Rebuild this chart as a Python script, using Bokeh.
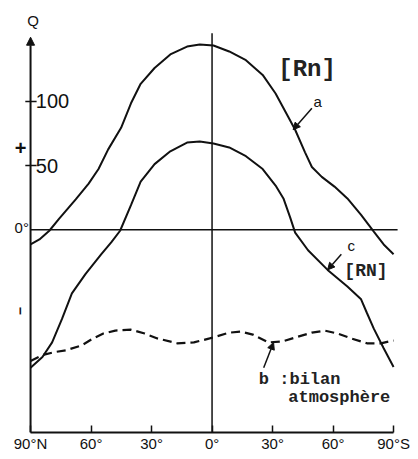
import math
from bokeh.plotting import figure
from bokeh.models import FixedTicker, Arrow, NormalHead, Range1d
from bokeh.core.properties import value
from bokeh.embed import file_html
from bokeh.resources import INLINE

# ---- data (latitude: negative = North, positive = South) ----
lat_ticks = [-90, -60, -30, 0, 30, 60, 90]
lat_labels = ["90°N", "60°", "30°", "0°", "30°", "60°", "90°S"]

q_ticks = [50, 100]
q_tick_labels = ["50", "100"]

# curve a : total
a_lat = [-90, -85.6, -80.7, -75.9, -67.6, -61.2, -56.3, -51.5, -45.1, -40.2, -35.4,
         -28.5, -20.7, -12.4, -6.1, 0.7, 8.5, 16.8, 25.1, 31.5, 37.8, 41.2, 46.1,
         49.5, 54.4, 60.7, 67.1, 73.9, 80.2, 85.1, 90.0]
a_q = [-11.5, -7.6, -0.8, 8.4, 23.7, 35.9, 47.3, 62.6, 79.4, 98.5, 113.7,
       126.0, 136.6, 142.7, 144.3, 143.5, 138.9, 132.1, 120.6, 106.1, 87.8, 77.9, 60.3,
       48.9, 41.2, 33.6, 24.4, 11.5, -1.5, -11.5, -19.1]

# curve c : [RN]
c_lat = [-90, -84.1, -79.3, -74.4, -69.5, -62.7, -54.9, -50.0, -45.6, -40.2, -35.4,
         -28.5, -20.7, -12.4, -6.1, 0.7, 8.5, 16.8, 25.1, 31.5, 35.4, 38.8, 41.2,
         47.6, 57.3, 67.1, 73.9, 76.8, 80.2, 85.1, 90.0]
c_q = [-107.6, -99.2, -87.8, -69.5, -49.6, -34.4, -19.1, -9.9, -0.8, 19.1, 37.4,
       51.1, 61.1, 67.9, 68.7, 67.2, 64.1, 57.3, 47.3, 34.4, 24.4, 9.2, -2.3,
       -16.0, -31.3, -44.3, -54.2, -64.9, -77.1, -92.4, -106.9]

# curve b : bilan atmosphère
b_lat = [-90, -84.1, -78.3, -72.4, -64.6, -59.8, -53.9, -48.0, -40.2, -33.4, -27.1,
         -17.3, -9.0, -1.2, 8.5, 14.4, 20.2, 28.0, 34.9, 41.2, 49.5, 55.9, 62.2,
         69.0, 76.8, 83.7, 90.0]
b_q = [-102.3, -97.7, -95.4, -93.9, -90.1, -85.5, -80.9, -78.6, -77.9, -80.9, -84.7,
       -88.5, -87.8, -84.7, -80.2, -79.4, -81.7, -87.8, -87.0, -84.0, -80.2, -78.6, -80.9,
       -84.7, -88.5, -88.5, -86.3]

INK = "#111111"
SANS = value("Liberation Sans")
MONO = value("Liberation Mono")

p = figure(frame_width=410, frame_height=432,
           x_range=Range1d(-104.9, 98.4), y_range=Range1d(-158, 178.6),
           output_backend="svg", toolbar_location=None, y_axis_location=None,
           min_border_left=0, min_border_right=0, min_border_top=0, min_border_bottom=19)
p.grid.visible = False
p.outline_line_color = None
p.background_fill_color = "white"
p.border_fill_color = "white"

ax = p.xaxis[0]
ax.ticker = FixedTicker(ticks=lat_ticks)
ax.major_label_overrides = dict(zip(lat_ticks, lat_labels))
ax.bounds = (-90, 90)
ax.axis_line_width = 2
ax.axis_line_color = INK
ax.major_tick_in = 7
ax.major_tick_out = 0
ax.major_tick_line_width = 1.5
ax.major_tick_line_color = INK
ax.minor_tick_line_color = None
ax.major_label_text_font = "Liberation Sans"
ax.major_label_text_font_size = "15px"
ax.major_label_text_color = INK
ax.major_label_standoff = 2

# y axis with arrow
p.add_layout(Arrow(end=NormalHead(size=8, fill_color=INK, line_color=INK),
                   x_start=-90, y_start=-158, x_end=-90, y_end=150,
                   line_width=2, line_color=INK))
# y ticks and labels
p.segment(x0=[-92.6] * len(q_ticks), x1=[-87.0] * len(q_ticks), y0=q_ticks, y1=q_ticks,
          line_color=INK, line_width=1.5)
p.text(x=[-87.4] * len(q_ticks), y=q_ticks, text=q_tick_labels, text_font=SANS,
       text_font_size="20px", text_align="left", text_baseline="middle", text_color=INK)

# reference lines
p.segment(x0=[-90], y0=[0], x1=[92], y1=[0], line_color=INK, line_width=1.5)
p.segment(x0=[0], y0=[-158], x1=[0], y1=[153], line_color=INK, line_width=1.5)

# curves
p.line(a_lat, a_q, line_color=INK, line_width=2)
p.line(c_lat, c_q, line_color=INK, line_width=2)
p.line(b_lat, b_q, line_color=INK, line_width=2.2, line_dash="9 5")

# axis decorations
p.text(x=[-91.6], y=[163.0], text=["Q"], text_font=SANS, text_font_size="15px",
       text_align="left", text_baseline="middle", text_color=INK)
p.text(x=[-90.8], y=[1.5], text=["0°"], text_font=SANS, text_font_size="15px",
       text_align="right", text_baseline="middle", text_color=INK)
p.text(x=[-94.9], y=[63.5], text=["+"], text_font=SANS, text_font_size="20px",
       text_font_style="bold", text_align="center", text_baseline="middle", text_color=INK)
p.text(x=[-95.1], y=[-63.4], text=["−"], text_font=SANS, text_font_size="14px",
       text_font_style="bold", text_align="center", text_baseline="middle", text_color=INK,
       angle=math.pi / 2)

# annotations
p.text(x=[47.1], y=[125.2], text=["[Rn]"], text_font=MONO, text_font_size="24px",
       text_font_style="bold", text_align="center", text_baseline="middle", text_color="#222222")
p.text(x=[52.4], y=[100.0], text=["a"], text_font=SANS, text_font_size="15px",
       text_align="center", text_baseline="middle", text_color=INK)
p.add_layout(Arrow(end=NormalHead(size=7, fill_color=INK, line_color=INK),
                   x_start=49.5, y_start=94.7, x_end=40.2, y_end=77.9,
                   line_width=1.5, line_color=INK))

p.text(x=[69.0], y=[-12.2], text=["c"], text_font=SANS, text_font_size="15px",
       text_align="center", text_baseline="middle", text_color=INK)
p.add_layout(Arrow(end=NormalHead(size=7, fill_color=INK, line_color=INK),
                   x_start=64.1, y_start=-19.1, x_end=57.3, y_end=-31.3,
                   line_width=1.5, line_color=INK))
p.text(x=[76.3], y=[-32.1], text=["[RN]"], text_font=MONO, text_font_size="18px",
       text_font_style="bold", text_align="center", text_baseline="middle", text_color="#222222")

p.text(x=[23.2], y=[-116.8], text=["b :bilan"], text_font=MONO, text_font_size="17px",
       text_font_style="bold", text_align="left", text_baseline="middle", text_color="#222222")
p.text(x=[37.8], y=[-130.5], text=["atmosphère"], text_font=MONO, text_font_size="17px",
       text_font_style="bold", text_align="left", text_baseline="middle", text_color="#222222")
p.add_layout(Arrow(end=NormalHead(size=7, fill_color=INK, line_color=INK),
                   x_start=25.6, y_start=-107.6, x_end=30.5, y_end=-87.8,
                   line_width=1.5, line_color=INK))

open("out.html", "w").write(file_html(p, INLINE))
